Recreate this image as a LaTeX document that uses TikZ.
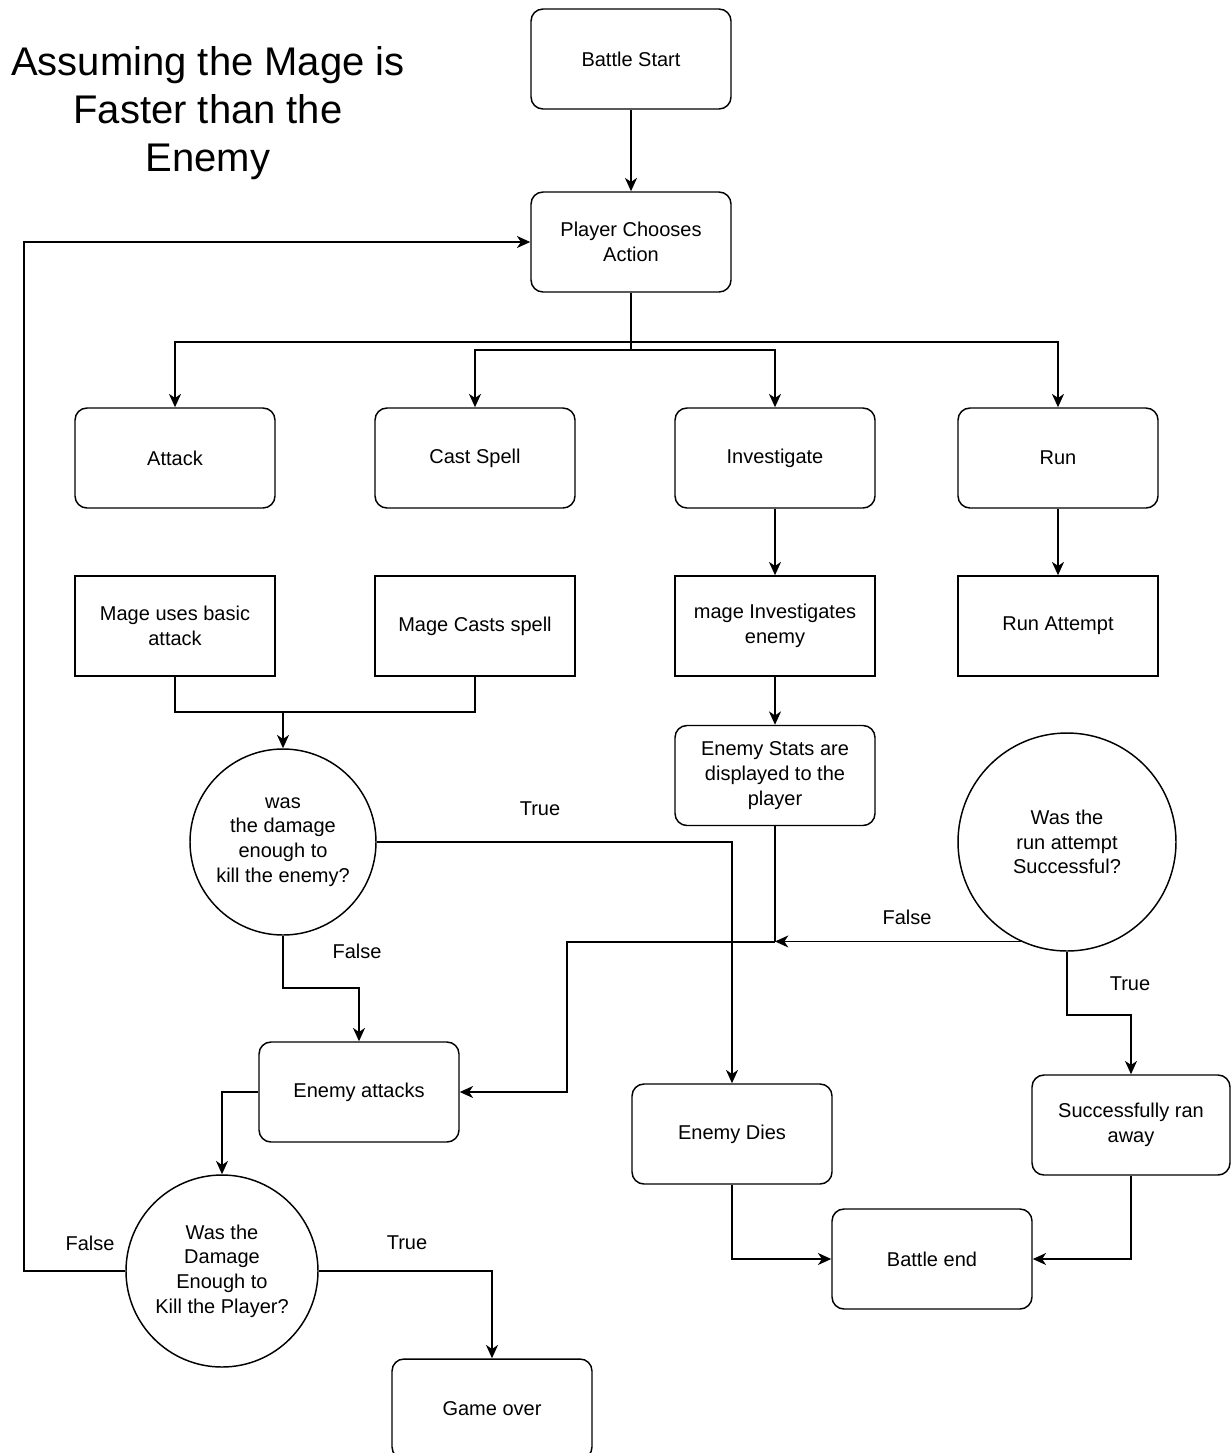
\documentclass[tikz,border=0pt]{standalone}
\usepackage{fontspec}
\setmainfont{Liberation Sans}
\usetikzlibrary{arrows.meta}

\begin{document}
\begin{tikzpicture}[x=0.75pt,y=-0.75pt,
    box/.style={draw,line width=1.1pt,rounded corners=9pt,minimum width=150pt,minimum height=75pt,align=center,inner sep=2pt,font=\fontsize{15}{18.5}\selectfont},
    sqbox/.style={box,sharp corners},
    ask/.style={draw,circle,line width=1.1pt,align=center,inner sep=0pt,font=\fontsize{15}{18.5}\selectfont},
    link/.style={line width=1.1pt},
    flow/.style={link,-{Stealth[length=10pt,width=9pt,inset=3pt]}},
    lbl/.style={font=\fontsize{15}{18.5}\selectfont}]
    \useasboundingbox (0,0) rectangle (1231,1453);
    % Titel
    \node[align=center,font=\fontsize{30}{36}\selectfont] (title) at (208,113) {Assuming the Mage is\\Faster than the\\Enemy};
    % Start og valg
    \node[box] (start) at (631,59) {Battle Start};
    \node[box] (choose) at (631,242) {Player Chooses\\Action};
    \node[box] (attack) at (175,458) {Attack};
    \node[box] (spell) at (475,458) {Cast Spell};
    \node[box] (investigate) at (775,458) {Investigate};
    \node[box] (run) at (1058,458) {Run};
    % Handlinger
    \node[sqbox] (basic) at (175,626) {Mage uses basic\\attack};
    \node[sqbox] (casts) at (475,626) {Mage Casts spell};
    \node[sqbox] (inspect) at (775,626) {mage Investigates\\enemy};
    \node[sqbox] (attempt) at (1058,626) {Run Attempt};
    \node[box] (stats) at (775,775.5) {Enemy Stats are\\displayed to the\\player};
    % Spoergsmaal
    \node[ask,minimum size=139.5pt] (killq) at (283,842) {was\\the damage\\enough to\\kill the enemy?};
    \node[ask,minimum size=163.5pt] (runq) at (1067,842) {Was the\\run attempt\\Successful?};
    \node[ask,minimum size=144pt] (playerq) at (222,1271) {Was the\\Damage\\Enough to\\Kill the Player?};
    % Udfald
    \node[box] (enemyatk) at (359,1092) {Enemy attacks};
    \node[box] (dies) at (732,1134) {Enemy Dies};
    \node[box,minimum width=148.5pt] (flee) at (1131,1125) {Successfully ran\\away};
    \node[box] (battleend) at (932,1259) {Battle end};
    \node[box] (gameover) at (492,1409) {Game over};
    % Hjaelpepunkter
    \coordinate (fork1) at (631,342);
    \coordinate (fork2) at (631,350);
    \coordinate (merge) at (283,712);
    \coordinate (kfalse) at (283,988);
    \coordinate (jn) at (775,942);
    \coordinate (bend) at (567,942);
    \coordinate (rtrue) at (1067,1015);
    \coordinate (back) at (24,700);
    % Pile
    \draw[flow] (start.south) -- (choose.north);
    \draw[link] (choose.south) -- (fork2);
    \draw[flow] (fork1) -| (attack.north);
    \draw[flow] (fork1) -| (run.north);
    \draw[flow] (fork2) -| (spell.north);
    \draw[flow] (fork2) -| (investigate.north);
    \draw[flow] (investigate) -- (inspect);
    \draw[flow] (run) -- (attempt);
    \draw[flow] (inspect) -- (stats);
    \draw[link] (basic.south) |- (merge) -| (casts.south);
    \draw[flow] (merge) -- (killq.north);
    \draw[flow] (killq.east) -| (dies.north);
    \draw[flow] (killq.south) -- (kfalse) -| (enemyatk.north);
    \draw[link] (stats.south) -- (jn);
    \draw[flow] (jn) -- (bend) |- (enemyatk.east);
    \draw[flow] (runq.245) -- (runq.245 -| jn);
    \draw[flow] (runq.south) -- (rtrue) -| (flee.north);
    \draw[flow] (dies.south) |- (battleend.west);
    \draw[flow] (flee.south) |- (battleend.east);
    \draw[flow] (enemyatk.west) -| (playerq.north);
    \draw[flow] (playerq.west) -| (back) |- (choose.west);
    \draw[flow] (playerq.east) -| (gameover.north);
    % Etiketter
    \node[lbl] (t1) at (540,809) {True};
    \node[lbl] (f1) at (357,951) {False};
    \node[lbl] (f2) at (907,917) {False};
    \node[lbl] (t2) at (1130,984) {True};
    \node[lbl] (f3) at (90,1243) {False};
    \node[lbl] (t3) at (407,1243) {True};
\end{tikzpicture}
\end{document}
